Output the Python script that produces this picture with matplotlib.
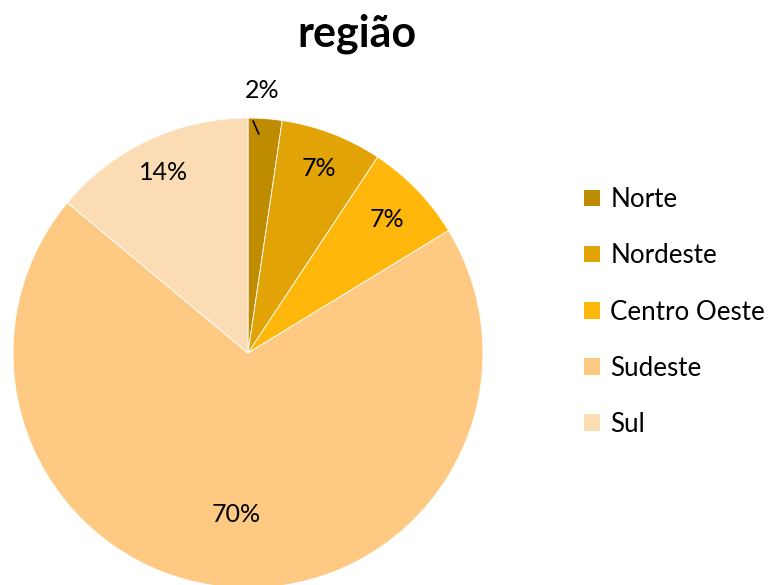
import numpy as np
import matplotlib
matplotlib.use('Agg')
import matplotlib.pyplot as plt
from matplotlib.patches import Patch

# Data
regions = ['Norte', 'Nordeste', 'Centro Oeste', 'Sudeste', 'Sul']
counts = [1, 3, 3, 30, 6]
colors = ['#BF8B00', '#E2A307', '#FFB70B', '#FEC982', '#FCDCB5']
title = 'região'

# radial distance of each percentage label (fraction of radius)
label_dist = [1.12, 0.84, 0.82, 0.69, 0.85]

plt.rcParams['font.family'] = ['Lato', 'DejaVu Sans']

fig = plt.figure(figsize=(7.72, 5.85), dpi=100)
ax = fig.add_axes([13 / 772, -3 / 585, 470 / 772, 470 / 585])

wedges, _ = ax.pie(counts, colors=colors, startangle=90, counterclock=False,
                   radius=1, wedgeprops=dict(edgecolor='white', linewidth=0.6))
ax.set_xlim(-1, 1)
ax.set_ylim(-1, 1)
ax.set_aspect('equal')
ax.axis('off')

total = sum(counts)
for i, (w, c, d) in enumerate(zip(wedges, counts, label_dist)):
    mid = np.deg2rad((w.theta1 + w.theta2) / 2)
    if i == 0:
        mid += np.deg2rad(1.0)
    ax.text(d * np.cos(mid), d * np.sin(mid), f'{100 * c / total:.0f}%',
            ha='center', va='center', fontsize=18, color='black')

# leader line for the small slice
a1, a2 = np.deg2rad(90 - 1.2), np.deg2rad(90 - 2.9)
ax.plot([0.99 * np.cos(a1), 0.93 * np.cos(a2)], [0.99 * np.sin(a1), 0.93 * np.sin(a2)],
        color='black', linewidth=1.2, solid_capstyle='butt')

fig.text(357 / 772, 1 - 34 / 585, title, ha='center', va='center',
         fontsize=31, fontweight='bold')

handles = [Patch(facecolor=c, edgecolor='none') for c in colors]
fig.legend(handles, regions, loc='center left', bbox_to_anchor=(574 / 772, 1 - 312 / 585),
           frameon=False, fontsize=18.7, handlelength=0.6, handleheight=0.6,
           handletextpad=0.4, labelspacing=1.2, borderaxespad=0)

fig.savefig('out.png', dpi=100)
